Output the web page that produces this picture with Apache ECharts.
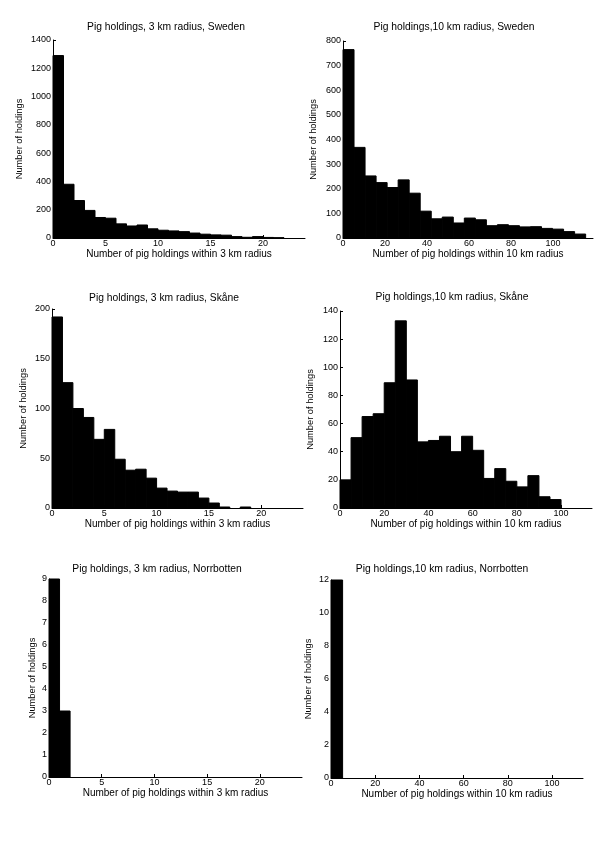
<!DOCTYPE html>
<html>
<head>
<meta charset="utf-8">
<script src="https://cdn.jsdelivr.net/npm/echarts@6/dist/echarts.min.js"></script>
<style>html,body{margin:0;padding:0;background:#fff}#c{width:600px;height:849px}</style>
</head>
<body>
<div id="c"></div>
<script>
// ---- data ----
var titles = [
  'Pig holdings, 3 km radius, Sweden',
  'Pig holdings,10 km radius, Sweden',
  'Pig holdings, 3 km radius, Skåne',
  'Pig holdings,10 km radius, Skåne',
  'Pig holdings, 3 km radius, Norrbotten',
  'Pig holdings,10 km radius, Norrbotten'
];
var xNames = [
  'Number of pig holdings within 3 km radius',
  'Number of pig holdings within 10 km radius',
  'Number of pig holdings within 3 km radius',
  'Number of pig holdings within 10 km radius',
  'Number of pig holdings within 3 km radius',
  'Number of pig holdings within 10 km radius'
];
var yName = 'Number of holdings';
var binWidths = [1, 5.25, 1, 5, 1, 5.25];
var countsSweden3 = [1290, 380, 265, 195, 145, 140, 100, 85, 92, 65, 55, 50, 45, 35, 27, 22, 20, 10, 5, 10, 4, 2];
var countsSweden10 = [765, 368, 252, 225, 205, 236, 182, 109, 78, 85, 61, 81, 74, 50, 54, 50, 45, 46, 39, 36, 26, 16];
var countsSkane3 = [192, 126, 100, 91, 69, 79, 49, 38, 39, 30, 20, 17, 16, 16, 10, 5, 1, 0, 1, 0, 0, 0];
var countsSkane10 = [20, 50, 65, 67, 89, 133, 91, 47, 48, 51, 40, 51, 41, 21, 28, 19, 15, 23, 8, 6];
var countsNorr3 = [9, 3];
var countsNorr10 = [12];
var allCounts = [countsSweden3, countsSweden10, countsSkane3, countsSkane10, countsNorr3, countsNorr10];
var xMax = [24, 119, 24, 114, 24, 114];
var xInterval = [5, 20, 5, 20, 5, 20];
var yMax = [1400, 800, 200, 140, 9, 12];
var yInterval = [200, 100, 50, 20, 1, 2];

// ---- layout ----
var grids = [
  {left: 53, top: 40, width: 252, height: 198},
  {left: 343, top: 41, width: 250, height: 197},
  {left: 52, top: 309, width: 251, height: 199},
  {left: 340, top: 311, width: 252, height: 197},
  {left: 49, top: 579, width: 253, height: 198},
  {left: 331, top: 580, width: 252, height: 198}
];
var titlePos = [[166, 22], [454, 22], [164, 293], [452, 292], [157, 564], [442, 564]];
var xGap = [10, 10, 4, 5, 6, 11];
var yGap = [29.5, 25.5, 24.5, 25.5, 12.5, 18.5];

var FONT = 'Liberation Sans, Arial, sans-serif';
function plain(v) { return String(v); }
var option = {
  backgroundColor: '#fff',
  animation: false,
  title: [], grid: [], xAxis: [], yAxis: [], series: []
};
for (var i = 0; i < 6; i++) {
  option.title.push({
    text: titles[i], left: titlePos[i][0], top: titlePos[i][1], textAlign: 'center',
    padding: 0,
    textStyle: {fontFamily: FONT, fontSize: 10.3, fontWeight: 'normal', color: '#000'}
  });
  option.grid.push(Object.assign({containLabel: false}, grids[i]));
  var axisLine = {show: true, onZero: false, lineStyle: {color: '#000', width: 1}};
  var axisTick = {show: true, inside: true, length: 3, lineStyle: {color: '#000'}};
  option.xAxis.push({
    gridIndex: i, type: 'value', min: 0, max: xMax[i], interval: xInterval[i],
    axisLine: axisLine, axisTick: axisTick, splitLine: {show: false},
    name: xNames[i], nameLocation: 'middle', nameGap: xGap[i],
    nameTextStyle: {fontFamily: FONT, fontSize: 10, color: '#000'},
    axisLabel: {fontFamily: FONT, fontSize: 9, color: '#000', margin: 1,
      formatter: plain, showMaxLabel: false}
  });
  option.yAxis.push({
    gridIndex: i, type: 'value', min: 0, max: yMax[i], interval: yInterval[i],
    axisLine: axisLine, axisTick: axisTick, splitLine: {show: false},
    name: yName, nameLocation: 'middle', nameGap: yGap[i],
    nameTextStyle: {fontFamily: FONT, fontSize: 9.3, color: '#000'},
    axisLabel: {fontFamily: FONT, fontSize: 9, color: '#000', margin: 2,
      formatter: plain, showMaxLabel: true}
  });
  var w = binWidths[i];
  var data = allCounts[i].map(function (c, k) { return [k * w, (k + 1) * w, c]; });
  option.series.push({
    type: 'custom',
    xAxisIndex: i, yAxisIndex: i,
    encode: {x: [0, 1], y: 2},
    data: data,
    renderItem: function (params, api) {
      if (api.value(2) <= 0) return null;
      var p0 = api.coord([api.value(0), api.value(2)]);
      var p1 = api.coord([api.value(1), 0]);
      return {
        type: 'rect',
        shape: {x: p0[0], y: p0[1], width: p1[0] - p0[0], height: p1[1] - p0[1]},
        style: {fill: '#000', stroke: '#000', lineWidth: 1}
      };
    }
  });
}
var chart = echarts.init(document.getElementById('c'));
chart.setOption(option);
</script>
</body>
</html>
